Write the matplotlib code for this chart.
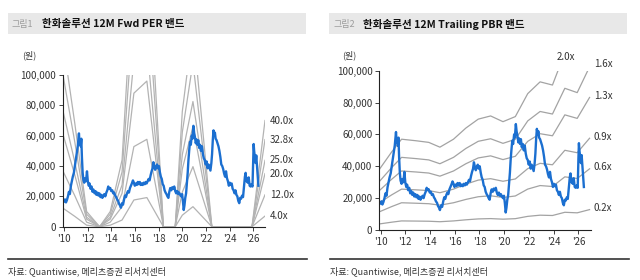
import numpy as np
import matplotlib
matplotlib.use("Agg")
import matplotlib.pyplot as plt
from matplotlib.patches import Rectangle
from matplotlib.lines import Line2D

plt.rcParams['font.family'] = ['Noto Sans CJK KR', 'DejaVu Sans']

# ---------------- data ----------------
price_dates = [
    2009.90, 2009.98, 2010.07, 2010.15, 2010.23, 2010.32, 2010.40, 2010.48, 2010.57, 2010.65,
    2010.73, 2010.82, 2010.90, 2010.98, 2011.07, 2011.15, 2011.21, 2011.25, 2011.30, 2011.35,
    2011.40, 2011.45, 2011.50, 2011.56, 2011.62, 2011.70, 2011.78, 2011.85, 2011.93, 2012.00,
    2012.08, 2012.15, 2012.23, 2012.32, 2012.40, 2012.48, 2012.57, 2012.65, 2012.73, 2012.82,
    2012.90, 2012.98, 2013.07, 2013.15, 2013.23, 2013.32, 2013.40, 2013.48, 2013.57, 2013.65,
    2013.73, 2013.82, 2013.90, 2013.98, 2014.07, 2014.15, 2014.23, 2014.32, 2014.40, 2014.48,
    2014.57, 2014.65, 2014.73, 2014.80, 2014.90, 2014.98, 2015.07, 2015.15, 2015.23, 2015.32,
    2015.40, 2015.48, 2015.57, 2015.65, 2015.73, 2015.82, 2015.90, 2015.98, 2016.07, 2016.15,
    2016.23, 2016.32, 2016.40, 2016.48, 2016.57, 2016.65, 2016.73, 2016.82, 2016.90, 2016.98,
    2017.07, 2017.15, 2017.23, 2017.32, 2017.40, 2017.48, 2017.55, 2017.62, 2017.70, 2017.78,
    2017.86, 2017.94, 2018.02, 2018.10, 2018.18, 2018.26, 2018.34, 2018.42, 2018.50, 2018.58,
    2018.66, 2018.74, 2018.82, 2018.90, 2018.98, 2019.07, 2019.15, 2019.23, 2019.32, 2019.40,
    2019.48, 2019.57, 2019.65, 2019.73, 2019.82, 2019.90, 2019.98, 2020.05, 2020.12, 2020.18,
    2020.25, 2020.32, 2020.40, 2020.46, 2020.52, 2020.58, 2020.65, 2020.72, 2020.80, 2020.86,
    2020.94, 2021.00, 2021.07, 2021.14, 2021.21, 2021.28, 2021.35, 2021.42, 2021.50, 2021.58,
    2021.66, 2021.74, 2021.82, 2021.90, 2021.98, 2022.06, 2022.14, 2022.22, 2022.30, 2022.38,
    2022.46, 2022.52, 2022.58, 2022.64, 2022.70, 2022.76, 2022.82, 2022.90, 2022.98, 2023.06,
    2023.14, 2023.22, 2023.30, 2023.38, 2023.46, 2023.54, 2023.62, 2023.70, 2023.78, 2023.86,
    2023.94, 2024.02, 2024.10, 2024.18, 2024.26, 2024.34, 2024.42, 2024.50, 2024.58, 2024.66,
    2024.74, 2024.82, 2024.90, 2024.98, 2025.06, 2025.14, 2025.22, 2025.30, 2025.36, 2025.42,
    2025.48, 2025.54, 2025.62, 2025.70, 2025.78, 2025.86, 2025.94, 2026.00, 2026.04, 2026.08,
    2026.14, 2026.20, 2026.26, 2026.32, 2026.38, 2026.44,
]
price_won = [
    17500, 16500, 18000, 16000, 17500, 20000, 23000, 21500, 27000, 30000,
    33000, 35500, 40000, 44000, 49000, 53000, 58000, 61500, 55000, 57500,
    53000, 58000, 46000, 36000, 31000, 29000, 32000, 30000, 36500, 30000,
    27000, 28500, 25000, 26500, 23000, 24500, 22000, 23500, 21000, 22500,
    20500, 22000, 19500, 21000, 19000, 20500, 21500, 20000, 22500, 24000,
    26500, 25000, 25500, 23500, 24000, 22000, 22500, 20500, 19500, 18000,
    17000, 15000, 14000, 12500, 15500, 14500, 18000, 20500, 19500, 22000,
    23500, 22500, 25500, 27000, 28500, 30500, 29000, 27000, 28500, 27500,
    29500, 28000, 29500, 27500, 28500, 27500, 29000, 28000, 29500, 28500,
    30000, 31500, 30500, 34000, 36500, 38500, 42500, 40000, 37500, 39500,
    41000, 38500, 40000, 36000, 33000, 31500, 28000, 27000, 24000, 22500,
    21500, 20000, 19000, 23000, 25500, 24000, 26000, 25000, 26500, 23500,
    22000, 23500, 21500, 22500, 21000, 20000, 21500, 17000, 11000, 14000,
    19000, 22000, 30000, 36000, 44000, 50000, 56000, 54000, 60000, 58000,
    66500, 62000, 59000, 55000, 57500, 54000, 57000, 52000, 54000, 50000,
    53000, 48000, 45000, 44000, 41000, 43000, 38500, 41000, 39000, 37000,
    42000, 48000, 57000, 63500, 60000, 62000, 58000, 57000, 55000, 53000,
    50000, 46000, 41000, 40000, 38000, 35000, 33000, 36500, 32000, 30000,
    27000, 29000, 27500, 28500, 25000, 24000, 22000, 24000, 21000, 20000,
    17000, 15500, 19000, 18500, 20500, 19500, 26000, 33000, 35500, 30000,
    32000, 29000, 32500, 27000, 26500, 28000, 26500, 45000, 54500, 50000,
    46000, 42000, 47000, 40000, 33000, 27000,
]

# 12M forward EPS (won) used for the PER bands
eps_dates = [2009.9, 2010.9, 2011.9, 2013.0, 2013.9, 2014.9, 2015.9, 2017.0,
             2018.4, 2019.4, 2020.0, 2020.9, 2022.5, 2025.9, 2027.0]
eps_won = [3050, 1700, 250, 0, 250, 1100, 4400, 4800,
           0, 0, 1900, 3300, 0, 0, 1750]
per_multiples = [4.0, 12.0, 20.0, 25.0, 32.8, 40.0]
per_labels = ['4.0x', '12.0x', '20.0x', '25.0x', '32.8x', '40.0x']

# trailing BPS (won) used for the PBR bands
bps_dates = [2009.9, 2010.9, 2011.7, 2012.9, 2013.9, 2014.8, 2015.9, 2016.9, 2017.9,
             2018.9, 2019.9, 2020.9, 2021.9, 2022.9, 2023.9, 2024.9, 2025.9, 2026.9]
bps_won = [19000, 24500, 28500, 28000, 27500, 26000, 28500, 32000, 34800,
           35800, 34000, 35600, 42800, 46500, 45500, 55600, 53900, 64000]
pbr_multiples = [0.2, 0.6, 0.9, 1.3, 1.6, 2.0]
pbr_labels = ['0.2x', '0.6x', '0.9x', '1.3x', '1.6x', '2.0x']

tick_years = [2010, 2012, 2014, 2016, 2018, 2020, 2022, 2024, 2026]
tick_labels = ["'10", "'12", "'14", "'16", "'18", "'20", "'22", "'24", "'26"]
ytick_values = [0, 20000, 40000, 60000, 80000, 100000]

titles = ['한화솔루션 12M Fwd PER 밴드', '한화솔루션 12M Trailing PBR 밴드']
fig_tags = ['그림1', '그림2']
unit_label = '(원)'
source_text = '자료: Quantiwise, 메리츠증권 리서치센터'

# ---------------- style ----------------
BLUE = '#1b6fd0'
GREY_L = '#b3b3b3'
GREY_R = '#a3a3a3'
TXT = '#333333'
W, H = 640, 280

fig = plt.figure(figsize=(6.4, 2.8), dpi=100)
fig.patch.set_facecolor('white')


def fx(px):
    return px / W


def fy(py):
    return 1 - py / H


axL = fig.add_axes([fx(63), fy(226.7), 202 / W, 151.7 / H])
axR = fig.add_axes([fx(379.3), fy(230), 211.5 / W, 159.3 / H])

for ax in (axL, axR):
    ax.set_xlim(2009.9, 2027.0)
    ax.set_ylim(0, 100000)
    for s in ('top', 'right'):
        ax.spines[s].set_visible(False)
    for s in ('left', 'bottom'):
        ax.spines[s].set_color('#222222')
        ax.spines[s].set_linewidth(0.8)
        ax.spines[s].set_zorder(5)
    ax.set_xticks(tick_years)
    ax.set_xticklabels(tick_labels)
    ax.set_yticks(ytick_values)
    ax.set_yticklabels([f'{v:,}' for v in ytick_values])
    ax.tick_params(axis='both', direction='out', length=3, width=0.6,
                   colors='#222222', labelsize=7, labelcolor=TXT, pad=2)
    ax.patch.set_alpha(0)

# PER bands
eps_arr = np.array(eps_won, dtype=float)
for m, lab in zip(per_multiples, per_labels):
    axL.plot(eps_dates, eps_arr * m, color=GREY_L, lw=0.9, zorder=2)
    axL.annotate(lab, xy=(eps_dates[-1], eps_arr[-1] * m), xytext=(3.5, 0),
                 textcoords='offset points', ha='left', va='center',
                 fontsize=7, color=TXT, annotation_clip=False)
axL.plot(price_dates, price_won, color=BLUE, lw=1.7, zorder=3)

# PBR bands
bps_arr = np.array(bps_won, dtype=float)
top = 100000
for m, lab in zip(pbr_multiples, pbr_labels):
    vals = bps_arr * m
    axR.plot(bps_dates, vals, color=GREY_R, lw=0.9, zorder=2)
    if vals[-1] <= top:
        axR.annotate(lab, xy=(bps_dates[-1], vals[-1]), xytext=(3, 1),
                     textcoords='offset points', ha='left', va='center',
                     fontsize=7, color=TXT, annotation_clip=False)
    else:
        # find where the band leaves the plot area
        xc = bps_dates[-1]
        for i in range(len(vals) - 1):
            if vals[i] <= top < vals[i + 1]:
                xc = bps_dates[i] + (top - vals[i]) / (vals[i + 1] - vals[i]) * (bps_dates[i + 1] - bps_dates[i])
                break
        if xc >= bps_dates[-1] - 0.5:
            axR.annotate(lab, xy=(bps_dates[-1], top), xytext=(3, 5),
                         textcoords='offset points', ha='left', va='center',
                         fontsize=7, color=TXT, annotation_clip=False)
        else:
            axR.annotate(lab, xy=(xc, top), xytext=(5.5, 10),
                         textcoords='offset points', ha='center', va='center',
                         fontsize=7, color=TXT, annotation_clip=False)
axR.plot(price_dates, price_won, color=BLUE, lw=1.7, zorder=3)

# headers, unit labels, footers
for x0, x1, tag, title, ux, lx0, lx1 in (
        (8, 306, fig_tags[0], titles[0], 22, 8, 307),
        (329, 627, fig_tags[1], titles[1], 342, 330, 629)):
    fig.add_artist(Rectangle((fx(x0), fy(34)), (x1 - x0) / W, 21 / H,
                             transform=fig.transFigure, facecolor='#e8e8e8',
                             edgecolor='none', zorder=0))
    fig.text(fx(x0 + 4), fy(24), tag, fontsize=6.5, color='#9c9c9c',
             va='center', ha='left')
    fig.text(fx(x0 + 34), fy(24), title, fontsize=7.6, color='#111111',
             fontweight='bold', va='center', ha='left')
    fig.text(fx(ux), fy(55), unit_label, fontsize=6.5, color=TXT,
             va='center', ha='left')
    fig.add_artist(Line2D([fx(lx0), fx(lx1)], [fy(259), fy(259)],
                          transform=fig.transFigure, color='#333333', lw=1.2))
    fig.text(fx(lx0), fy(271), source_text, fontsize=6.5, color=TXT,
             va='center', ha='left')

fig.savefig('out.png', dpi=100, facecolor='white')
